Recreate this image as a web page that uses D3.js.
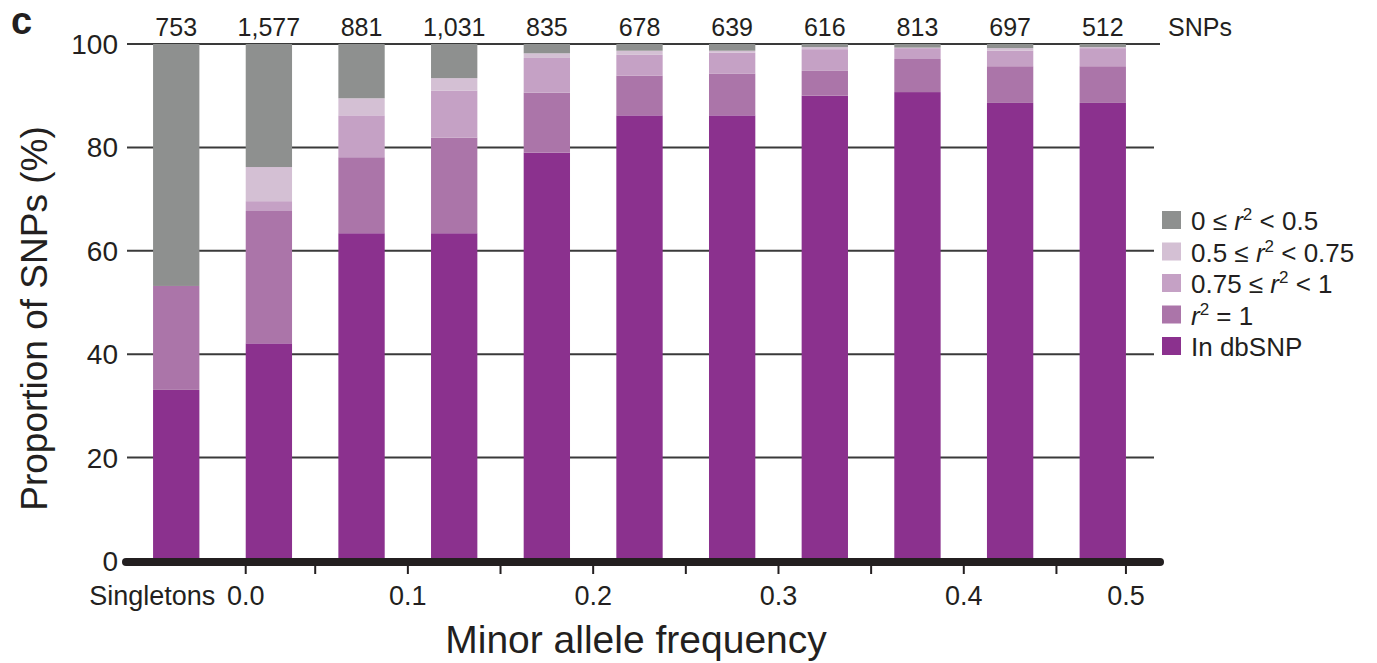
<!DOCTYPE html>
<html>
<head>
<meta charset="utf-8">
<script src="https://cdn.jsdelivr.net/npm/d3@7"></script>
<style>
  body { margin: 0; background: #fff; }
  text { font-family: "Liberation Sans", Arial, Helvetica, sans-serif; fill: #231f20; }
</style>
</head>
<body>
<div id="chart"></div>
<script>
// Bins on the x axis (singletons, then MAF bins of width 0.05)
var categories = ["Singletons", "0.00-0.05", "0.05-0.10", "0.10-0.15", "0.15-0.20",
                  "0.20-0.25", "0.25-0.30", "0.30-0.35", "0.35-0.40", "0.40-0.45", "0.45-0.50"];
var snpCounts = [753, 1577, 881, 1031, 835, 678, 639, 616, 813, 697, 512];

// Percent of SNPs in each class, per bin (bottom to top of the stack)
var inDbSNP   = [33.1, 42.1, 63.4, 63.4, 79.0, 86.2, 86.2, 90.0, 90.7, 88.6, 88.6];
var r2Eq1     = [20.1, 25.6, 14.7, 18.5, 11.6,  7.7,  8.1,  4.8,  6.4,  7.1,  7.1];
var r2From075 = [ 0.0,  1.9,  8.1,  9.1,  6.7,  4.0,  4.0,  4.2,  2.1,  3.0,  3.5];
var r2From05  = [ 0.0,  6.6,  3.3,  2.4,  0.9,  0.8,  0.4,  0.4,  0.1,  0.5,  0.2];
var r2Below05 = [46.8, 23.8, 10.5,  6.6,  1.8,  1.3,  1.3,  0.6,  0.7,  0.8,  0.6];

var yTicks = [0, 20, 40, 60, 80, 100];
var mafBoundaries = [0.0, 0.05, 0.1, 0.15, 0.2, 0.25, 0.3, 0.35, 0.4, 0.45, 0.5]; // bin edges under the bars

var keys = ["dbsnp", "eq1", "from075", "from05", "below05"];
var colors = { dbsnp: "#8b318e", eq1: "#ab75a9", from075: "#c5a1c5", from05: "#d4c0d4", below05: "#8e908f" };

// table for d3.stack
var table = categories.map(function (c, i) {
  return { cat: c, dbsnp: inDbSNP[i], eq1: r2Eq1[i], from075: r2From075[i], from05: r2From05[i], below05: r2Below05[i] };
});

var W = 1377, H = 663;
var svg = d3.select("#chart").append("svg")
    .attr("width", W)
    .attr("height", H);

// scales
var x = d3.scaleBand()
    .domain(categories)
    .range([116, 1163])
    .paddingInner(0.5)
    .paddingOuter(0.4);

var y = d3.scaleLinear()
    .domain([0, 100])
    .range([561, 44]);

// gridlines (drawn under the bars)
svg.append("g")
  .selectAll("line")
  .data(yTicks.filter(function (d) { return d > 0; }))
  .enter().append("line")
    .attr("x1", 127)
    .attr("x2", function (d) { return d === 100 ? 1160 : 1154; })
    .attr("y1", function (d) { return y(d); })
    .attr("y2", function (d) { return y(d); })
    .attr("stroke", "#3a3a3a")
    .attr("stroke-width", 2);

// y tick labels
svg.append("g")
  .selectAll("text")
  .data(yTicks)
  .enter().append("text")
    .attr("x", 118)
    .attr("y", function (d) { return y(d) + 10; })
    .attr("text-anchor", "end")
    .style("font-size", "28px")
    .text(function (d) { return d; });

// stacked bars
var stacked = d3.stack().keys(keys)(table);

svg.append("g")
  .selectAll("g")
  .data(stacked)
  .enter().append("g")
    .attr("fill", function (d) { return colors[d.key]; })
  .selectAll("rect")
  .data(function (d) { return d; })
  .enter().append("rect")
    .attr("x", function (d) { return x(d.data.cat); })
    .attr("y", function (d) { return y(d[1]); })
    .attr("width", x.bandwidth())
    .attr("height", function (d) { return y(d[0]) - y(d[1]); });

// SNP counts above bars
svg.append("g")
  .selectAll("text")
  .data(table)
  .enter().append("text")
    .attr("x", function (d) { return x(d.cat) + x.bandwidth() / 2; })
    .attr("y", 36)
    .attr("text-anchor", "middle")
    .style("font-size", "25px")
    .text(function (d, i) { return d3.format(",")(snpCounts[i]); });

svg.append("text")
    .attr("x", 1168)
    .attr("y", 36)
    .style("font-size", "25px")
    .text("SNPs");

// x position of a bin edge: outer edges sit on the bar sides, inner ones in the gaps
function edgeX(i) {
  var step = x.step(), bw = x.bandwidth();
  if (i === 0) return x(categories[1]);
  if (i === mafBoundaries.length - 1) return x(categories[categories.length - 1]) + bw;
  return x(categories[i]) + bw + (step - bw) / 2;
}

// thick baseline
svg.append("line")
    .attr("x1", 126).attr("x2", 1160)
    .attr("y1", y(0) + 1).attr("y2", y(0) + 1)
    .attr("stroke", "#231f20")
    .attr("stroke-width", 8)
    .attr("stroke-linecap", "round");

// x ticks and labels
svg.append("g")
  .selectAll("line")
  .data(mafBoundaries)
  .enter().append("line")
    .attr("x1", function (d, i) { return edgeX(i); })
    .attr("x2", function (d, i) { return edgeX(i); })
    .attr("y1", 565)
    .attr("y2", 574)
    .attr("stroke", "#231f20")
    .attr("stroke-width", 2);

svg.append("g")
  .selectAll("text")
  .data(mafBoundaries)
  .enter().filter(function (d) { return Math.abs(d * 10 - Math.round(d * 10)) < 1e-6; }) // label only 0.0, 0.1, ...
  .append("text")
    .attr("x", function (d) { return edgeX(mafBoundaries.indexOf(d)); })
    .attr("y", 605)
    .attr("text-anchor", "middle")
    .style("font-size", "27px")
    .text(function (d) { return d3.format(".1f")(d); });

svg.append("text")
    .attr("x", x(categories[0]) + x.bandwidth() + 16)
    .attr("y", 605)
    .attr("text-anchor", "end")
    .style("font-size", "27px")
    .text("Singletons");

// axis titles
svg.append("text")
    .attr("x", 636)
    .attr("y", 653)
    .attr("text-anchor", "middle")
    .style("font-size", "39px")
    .text("Minor allele frequency");

svg.append("text")
    .attr("transform", "translate(47," + ((y(0) + y(100)) / 2 + 16) + ") rotate(-90)")
    .attr("text-anchor", "middle")
    .style("font-size", "37px")
    .text("Proportion of SNPs (%)");

// panel letter
svg.append("text")
    .attr("x", 11)
    .attr("y", 34)
    .style("font-size", "38px")
    .style("font-weight", "900")
    .text("c");

// legend, top entry first
var legendItems = [
  { key: "below05", pre: "0 ≤ ",    r2: true,  post: " < 0.5" },
  { key: "from05",  pre: "0.5 ≤ ",  r2: true,  post: " < 0.75" },
  { key: "from075", pre: "0.75 ≤ ", r2: true,  post: " < 1" },
  { key: "eq1",     pre: "",        r2: true,  post: " = 1" },
  { key: "dbsnp",   pre: "In dbSNP", r2: false, post: "" }
];

var legend = svg.append("g")
  .selectAll("g")
  .data(legendItems)
  .enter().append("g")
    .attr("transform", function (d, i) { return "translate(1162," + (220 + i * 31.5) + ")"; });

legend.append("rect")
    .attr("x", 0)
    .attr("y", -9)
    .attr("width", 19)
    .attr("height", 18)
    .attr("fill", function (d) { return colors[d.key]; });

legend.append("text")
    .attr("x", 29)
    .attr("y", 10)
    .style("font-size", "26px")
    .each(function (d) {
      var t = d3.select(this);
      if (d.pre) t.append("tspan").text(d.pre);
      if (d.r2) {
        t.append("tspan").style("font-style", "italic").text("r");
        t.append("tspan").attr("dy", -10).style("font-size", "17px").text("2");
        t.append("tspan").attr("dy", 10).text(d.post);
      }
    });
</script>
</body>
</html>
